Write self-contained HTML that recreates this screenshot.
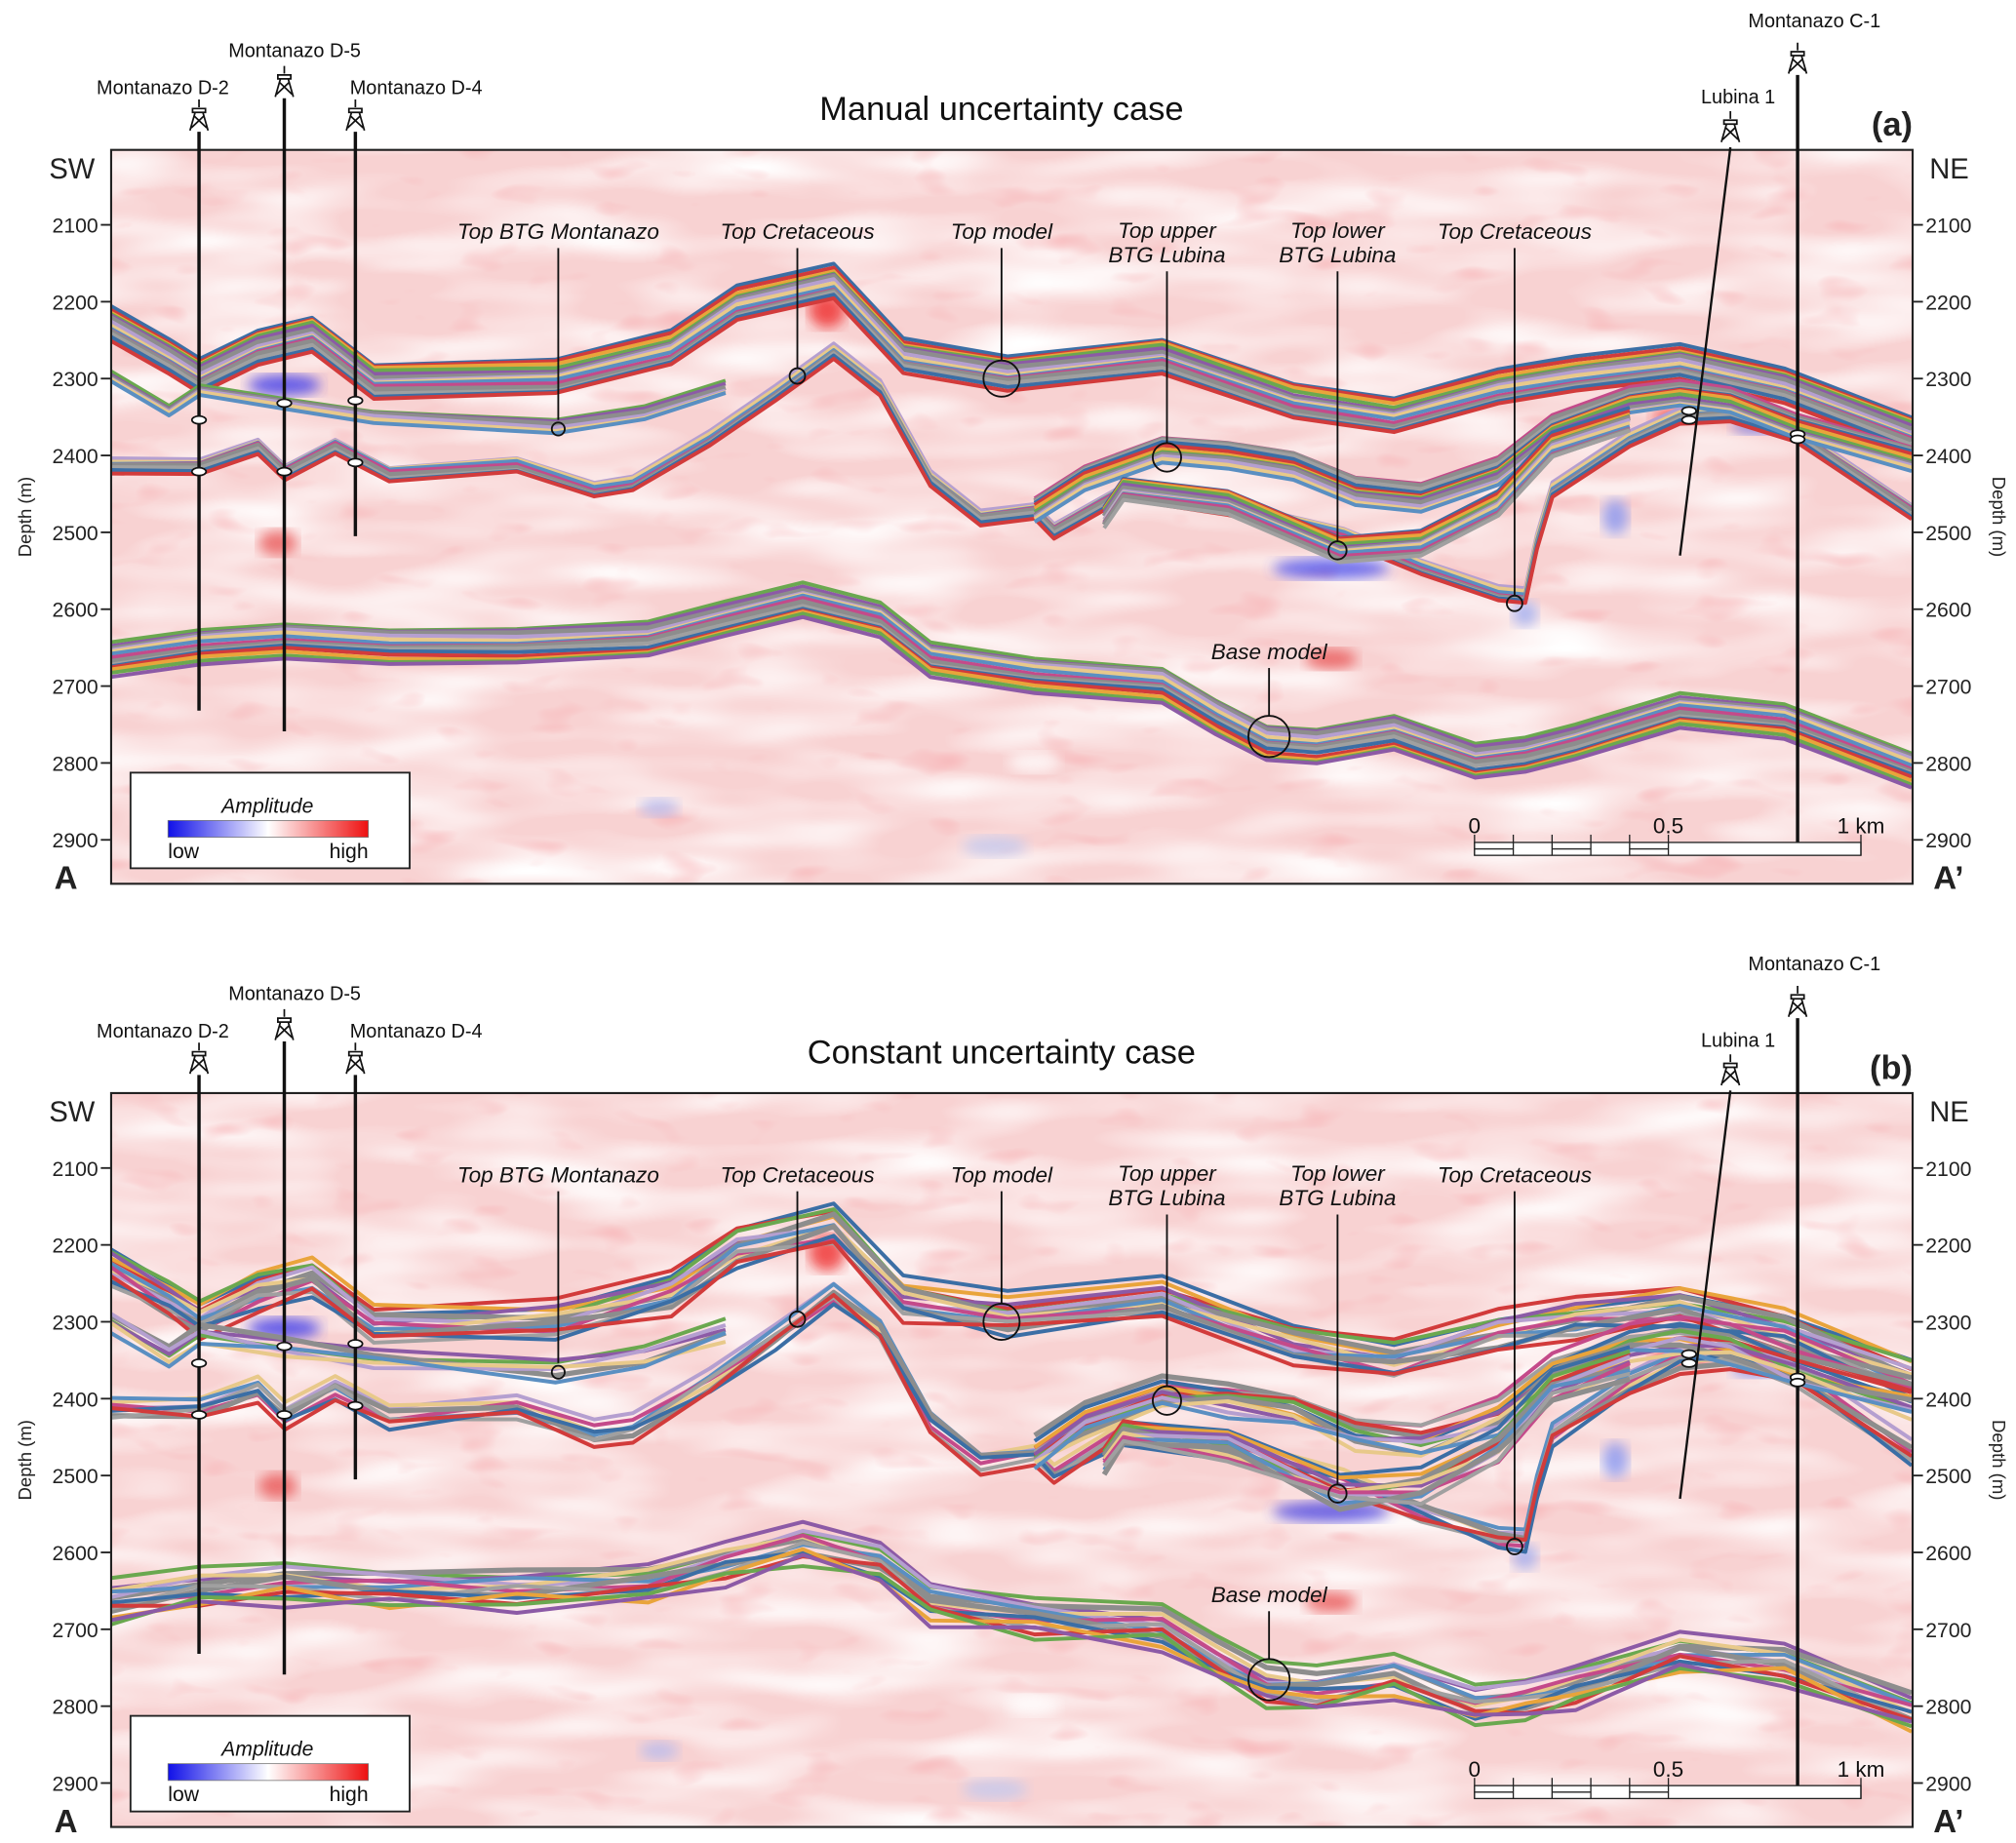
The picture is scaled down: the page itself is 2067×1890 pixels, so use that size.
<!DOCTYPE html>
<html><head><meta charset="utf-8"><style>
html,body{margin:0;padding:0;background:#fff;}
svg{display:block;font-family:"Liberation Sans",Arial,sans-serif;}
</style></head><body>
<svg id="fig" width="2067" height="1890" viewBox="0 0 1560 1426.4" xmlns="http://www.w3.org/2000/svg">
<defs>
<filter id="noise" x="0" y="0" width="100%" height="100%">
<feTurbulence type="fractalNoise" baseFrequency="0.008 0.035" numOctaves="2" seed="7"/>
<feColorMatrix type="matrix" values="0 0 0 0 1  0 0 0 0 1  0 0 0 0 1  0 0 0 2.0 -0.75"/>
</filter>
<filter id="noise2" x="0" y="0" width="100%" height="100%">
<feTurbulence type="fractalNoise" baseFrequency="0.02 0.05" numOctaves="2" seed="21"/>
<feColorMatrix type="matrix" values="0 0 0 0 0.93  0 0 0 0 0.40  0 0 0 0 0.42  0 0 0 2.0 -1.25"/>
</filter>
<filter id="blur"><feGaussianBlur stdDeviation="5"/></filter>
<linearGradient id="amp" x1="0" x2="1" y1="0" y2="0">
<stop offset="0" stop-color="#1010e8"/><stop offset="0.5" stop-color="#ffffff"/><stop offset="1" stop-color="#ee1010"/>
</linearGradient>
<clipPath id="clipA"><rect x="86" y="116" width="1394" height="568"/></clipPath>
<clipPath id="clipB"><rect x="86" y="846" width="1394" height="568"/></clipPath>
</defs>
<g id="panels"></g>
</svg>
<script>
// ---- data: distance along section (km) and depth (m) ----
const depthTicks = [2100, 2200, 2300, 2400, 2500, 2600, 2700, 2800, 2900];
const topModelKm = [0,0.15,0.23,0.38,0.52,0.68,1.15,1.45,1.62,1.87,2.05,2.32,2.72,3.06,3.32,3.59,3.79,4.06,4.33,4.66];
const topModelDepth = [2228,2270,2295,2258,2241,2303,2298,2261,2203,2174,2270,2292,2270,2329,2349,2312,2295,2278,2308,2371];
const btgMontKm = [0,0.15,0.23,0.45,0.68,1.15,1.38,1.59];
const btgMontDepth = [2298,2342,2315,2332,2349,2362,2345,2312];
const topCretKm = [0,0.23,0.38,0.45,0.58,0.72,1.05,1.25,1.35,1.55,1.72,1.87,1.99,2.12,2.25,2.39,2.44,2.62,2.89,3.19,3.39,3.59,3.66,3.69,3.73,3.93,4.06,4.19,4.36,4.66];
const topCretDepth = [2413,2413,2387,2421,2387,2424,2413,2446,2438,2379,2320,2265,2312,2429,2480,2471,2497,2446,2468,2505,2547,2581,2584,2514,2446,2379,2349,2345,2371,2472];
const upperLubKm = [2.39,2.52,2.72,2.89,3.06,3.22,3.39,3.59,3.73,3.93,4.06,4.19,4.36,4.66];
const upperLubDepth = [2471,2429,2392,2399,2413,2446,2455,2421,2366,2329,2320,2329,2362,2404];
const lowerLubKm = [2.57,2.62,2.89,3.18,3.39,3.59,3.73,3.93];
const lowerLubDepth = [2480,2443,2460,2522,2514,2463,2387,2354];
const baseKm = [0,0.23,0.45,0.72,1.05,1.39,1.59,1.79,1.99,2.12,2.39,2.72,2.86,2.99,3.12,3.32,3.53,3.66,3.79,4.06,4.33,4.66];
const baseDepth = [2665,2648,2640,2648,2648,2640,2614,2589,2614,2665,2685,2698,2740,2774,2779,2762,2799,2791,2774,2732,2745,2808];
const panelTitles = ["Manual uncertainty case", "Constant uncertainty case"];
const panelLetters = ["(a)", "(b)"];

const NS = "http://www.w3.org/2000/svg";
const root = document.getElementById('panels');
const colors = ["#3b6ea5","#d23b3b","#e9a43b","#6aa84f","#8c5aa6","#8d8d8d","#b59fd0","#e8c98a","#5a8fc2","#c44a8a","#8d8d8d","#a0a0a0"];
function mk(tag, attrs, parent){const e=document.createElementNS(NS,tag);for(const k in attrs)e.setAttribute(k,attrs[k]);(parent||root).appendChild(e);return e;}
function txt(s, attrs, parent){const e=mk('text',attrs,parent);e.textContent=s;return e;}

function drawPanel(p){
  const oy = p*730;
  const xS = km => 86 + km*299;
  const yS = d => 174 + oy + (d-2100)*0.595;
  const g = mk('g',{});
  
  
  const bg = mk('g',{'clip-path':`url(#clip${p?'B':'A'})`},g);
  
  
  mk('rect',{x:86,y:116+oy,width:1394,height:568,fill:'#f8d2d2'},bg);
  mk('rect',{x:86,y:116+oy,width:1394,height:568,filter:'url(#noise)'},bg);
  mk('rect',{x:86,y:116+oy,width:1394,height:568,filter:'url(#noise2)'},bg);
  const blobs=[[220,298,28,8,'#3030ee'],[640,240,14,14,'#ee2020'],[1030,440,45,8,'#4040e8'],[1300,322,22,6,'#ee2020'],[1250,400,10,14,'#8090f0'],[1180,475,10,10,'#9aa8f0'],[215,420,15,10,'#e85050'],[770,655,25,8,'#c0c8f0'],[510,625,15,7,'#b0b8f0'],[800,590,20,8,'#ffffff'],[1030,510,20,8,'#e85050'],[1360,330,20,6,'#7080ee']];
  blobs.forEach(b=>{const e=mk('ellipse',{cx:b[0],cy:b[1]+oy,rx:b[2],ry:b[3],fill:b[4],opacity:0.75,filter:'url(#blur)'},bg);
    
    });
  const hz = [[topModelKm,topModelDepth,'top-model',14,12],[btgMontKm,btgMontDepth,'top-btg-montanazo',6,4],[topCretKm,topCretDepth,'top-cretaceous',8,5],[upperLubKm,upperLubDepth,'top-upper-btg-lubina',12,9],[lowerLubKm,lowerLubDepth,'top-lower-btg-lubina',12,8],[baseKm,baseDepth,'base-model',14,12]];
  const hg = mk('g',{'clip-path':`url(#clip${p?'B':'A'})`,fill:'none','stroke-linejoin':'round'},g);
  hz.forEach((h,hi)=>{
    const [kms,ds,name,n,spread]=h;
    for(let i=0;i<n;i++){
      const base=(i-(n-1)/2)*(spread*2.2/(n-1))*1.68;
      let dstr='';
      kms.forEach((k,j)=>{
        let off=base;
        if(p===1) off += 10*Math.sin(k*(2+i*0.7)+i*1.3+hi);
        else off += 2*Math.sin(k*3+i);
        dstr += (j?'L':'M')+xS(k).toFixed(1)+','+(yS(ds[j]+off)).toFixed(1);
      });
      const c = colors[(i+hi*3)%colors.length];
      const e=mk('path',{d:dstr,stroke:c,'stroke-width':(c==='#8d8d8d'?4:3)},hg);
      
      
    }
  });
  const fr=mk('rect',{x:86,y:116+oy,width:1394,height:568,fill:'none',stroke:'#222','stroke-width':1.6},g);
  
  
  depthTicks.forEach(d=>{
    const y=yS(d);
    mk('line',{x1:78,x2:86,y1:y,y2:y,stroke:'#222','stroke-width':1.4},g);
    mk('line',{x1:1480,x2:1488,y1:y,y2:y,stroke:'#222','stroke-width':1.4},g);
    const l=txt(String(d),{x:76,y:y+6,'text-anchor':'end','font-size':16,fill:'#222'},g);
    
    
    const r=txt(String(d),{x:1490,y:y+6,'font-size':16,fill:'#222'},g);
    
    
  });
  const yl=txt('Depth (m)',{x:0,y:0,'font-size':14,'text-anchor':'middle',transform:`translate(24,${400+oy}) rotate(-90)`,fill:'#222'},g);
  
  
  const yr=txt('Depth (m)',{x:0,y:0,'font-size':14,'text-anchor':'middle',transform:`translate(1542,${400+oy}) rotate(90)`,fill:'#222'},g);
  
  
  const t=txt(panelTitles[p],{x:775,y:93+oy,'text-anchor':'middle','font-size':26,fill:'#111'},g);
  
  
  const lt=txt(panelLetters[p],{x:1480,y:105+oy,'text-anchor':'end','font-size':26,'font-weight':'bold',fill:'#222'},g);
  
  
  [['SW',38,138],['NE',1493,138]].forEach(a=>{const e=txt(a[0],{x:a[1],y:a[2]+oy,'font-size':22,fill:'#222'},g);
    
    });
  [['A',42,688],['A\u2019',1496,688]].forEach(a=>{const e=txt(a[0],{x:a[1],y:a[2]+oy,'font-size':25,'font-weight':'bold',fill:'#222'},g);
    
    });
  // wells: name, x, line top, line bottom, label x, label y
  const wells=[['Montanazo D-2',154,102,550,126,73],['Montanazo D-5',220,76,566,228,44],['Montanazo D-4',275,102,415,322,73],['Montanazo C-1',1391,58,652,1404,21]];
  wells.forEach(w=>{
    const wg=mk('g',{},g);
    
    
    mk('line',{x1:w[1],x2:w[1],y1:w[2]+oy,y2:w[3]+oy,stroke:'#111','stroke-width':2.6},wg);
    derrick(wg,w[1],w[2]-25+oy);
    txt(w[0],{x:w[4],y:w[5]+oy,'text-anchor':'middle','font-size':15,fill:'#111'},wg);
  });
  const lg=mk('g',{},g);
  
  
  mk('line',{x1:1339,y1:114+oy,x2:1300,y2:430+oy,stroke:'#111','stroke-width':1.8},lg);
  derrick(lg,1339,86+oy);
  txt('Lubina 1',{x:1345,y:80+oy,'text-anchor':'middle','font-size':15,fill:'#111'},lg);
  [[154,325],[154,365],[220,312],[220,365],[275,310],[275,358],[1307,318],[1307,325],[1391,336],[1391,340]].forEach(m=>{
    const e=mk('ellipse',{cx:m[0],cy:m[1]+oy,rx:5.5,ry:3,fill:'#fff',stroke:'#111','stroke-width':1.3},g);
    
    
  });
  const ann=[[['Top BTG Montanazo'],432,192,325,332,5],[['Top Cretaceous'],617,192,285,291,6],[['Top model'],775,192,279,293,14],[['Top upper','BTG Lubina'],903,210,343,354,11],[['Top lower','BTG Lubina'],1035,210,419,426,7],[['Top Cretaceous'],1172,192,461,467,6],[['Base model'],982,517,554,570,16]];
  ann.forEach(a=>{
    const ag=mk('g',{},g);
    
    
    const ty0 = a[0].length>1? a[2]-26 : a[2]-7;
    a[0].forEach((s,k)=>txt(s,{x:a[1],y:ty0+k*19+oy,'text-anchor':'middle','font-size':17,'font-style':'italic',fill:'#111'},ag));
    mk('line',{x1:a[1],x2:a[1],y1:a[2]+oy,y2:a[3]+oy,stroke:'#111','stroke-width':1.4},ag);
    mk('circle',{cx:a[1],cy:a[4]+oy,r:a[5],fill:'none',stroke:'#111','stroke-width':1.4},ag);
  });
  const lgd=mk('g',{},g);
  
  
  mk('rect',{x:101,y:598+oy,width:216,height:74,fill:'#fff',stroke:'#222','stroke-width':1.4},lgd);
  txt('Amplitude',{x:207,y:629+oy,'text-anchor':'middle','font-size':16,'font-style':'italic',fill:'#111'},lgd);
  mk('rect',{x:130,y:635+oy,width:155,height:13,fill:'url(#amp)',stroke:'#777','stroke-width':0.6},lgd);
  txt('low',{x:130,y:664+oy,'font-size':16,fill:'#111'},lgd);
  txt('high',{x:285,y:664+oy,'text-anchor':'end','font-size':16,fill:'#111'},lgd);
  const sb=mk('g',{},g);
  
  
  mk('rect',{x:1141,y:652+oy,width:299,height:10,fill:'#fff',stroke:'#222','stroke-width':1},sb);
  for(let i=0;i<5;i++){
    const x=1141+i*30;
    mk('line',{x1:x,x2:x,y1:646+oy,y2:662+oy,stroke:'#222','stroke-width':1},sb);
    if(i%2===0) mk('line',{x1:x,x2:x+30,y1:657+oy,y2:657+oy,stroke:'#222','stroke-width':1},sb);
  }
  mk('line',{x1:1291,x2:1291,y1:646+oy,y2:662+oy,stroke:'#222','stroke-width':1},sb);
  mk('line',{x1:1440,x2:1440,y1:646+oy,y2:662+oy,stroke:'#222','stroke-width':1},sb);
  txt('0',{x:1141,y:645+oy,'text-anchor':'middle','font-size':17,fill:'#111'},sb);
  txt('0.5',{x:1291,y:645+oy,'text-anchor':'middle','font-size':17,fill:'#111'},sb);
  txt('1 km',{x:1440,y:645+oy,'text-anchor':'middle','font-size':17,fill:'#111'},sb);
}
function derrick(parent,x,y){
  // y = top of icon, ~24 tall
  const d=`M${x},${y} L${x},${y+6} M${x-5},${y+7} L${x+5},${y+7} L${x+5},${y+10} L${x-5},${y+10} Z M${x-3},${y+10} L${x-7},${y+24} M${x+3},${y+10} L${x+7},${y+24} M${x-3.5},${y+13} L${x+6},${y+22} M${x+3.5},${y+13} L${x-6},${y+22}`;
  const e=mk('path',{d:d,fill:'#fff',stroke:'#111','stroke-width':1.3},parent);
  
  
}
drawPanel(0);
drawPanel(1);
</script>
</body></html>
